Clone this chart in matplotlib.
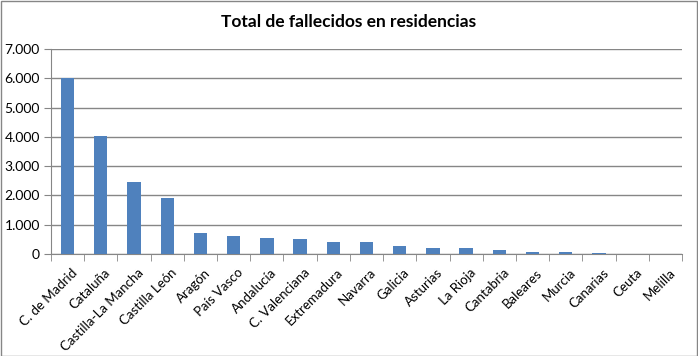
import numpy as np
import matplotlib.pyplot as plt
from matplotlib.ticker import FuncFormatter, FixedLocator
from matplotlib.patches import Rectangle
from matplotlib.transforms import ScaledTranslation

comunidades = ["C. de Madrid", "Cataluña", "Castilla-La Mancha", "Castilla León",
               "Aragón", "País Vasco", "Andalucía", "C. Valenciana", "Extremadura",
               "Navarra", "Galicia", "Asturias", "La Rioja", "Cantabria", "Baleares",
               "Murcia", "Canarias", "Ceuta", "Melilla"]
fallecidos = [5998, 4035, 2460, 1915, 730, 616, 547, 513, 410,
              420, 280, 210, 210, 140, 70, 70, 35, 0, 0]

plt.rcParams["font.family"] = ["Lato", "DejaVu Sans"]

fig = plt.figure(figsize=(6.98, 3.56), dpi=100)
ax = fig.add_axes([51/698, 1 - 254/356, (682-51)/698, (254-49)/356])

x = np.arange(len(comunidades))
ax.bar(x, fallecidos, width=0.4, color="#4f81bd", zorder=3)

ax.set_xlim(-0.5, len(comunidades) - 0.5)
ax.set_ylim(0, 7000)
ax.set_yticks(np.arange(0, 7001, 1000))
ax.yaxis.set_major_formatter(FuncFormatter(lambda v, p: f"{int(v):,}".replace(",", ".")))
ax.grid(axis="y", color="#868686", linewidth=1, zorder=0)

ax.set_xticks(x)
ax.set_xticklabels(comunidades, rotation=45, ha="right", rotation_mode="anchor", fontsize=9.5)
ax.tick_params(axis="x", length=0, pad=9)
off = ScaledTranslation(2.5/72, 0, fig.dpi_scale_trans)
for lab in ax.get_xticklabels():
    lab.set_transform(lab.get_transform() + off)
ax.xaxis.set_minor_locator(FixedLocator(np.arange(-0.5, len(comunidades), 1)))
ax.tick_params(axis="x", which="minor", length=5, color="#868686")
ax.tick_params(axis="y", length=5, color="#868686", labelsize=10, pad=3)

for s in ["top", "right"]:
    ax.spines[s].set_visible(False)
for s in ["left", "bottom"]:
    ax.spines[s].set_color("#868686")

fig.text(0.5, 1 - 22/356, "Total de fallecidos en residencias", ha="center", va="center",
         fontsize=12.5, fontweight="bold")

fig.patches.append(Rectangle((0.5/698, 0.5/356), 1 - 1.5/698, 1 - 1.5/356,
                             transform=fig.transFigure, fill=False,
                             edgecolor="#868686", linewidth=1))

fig.savefig("out.png", dpi=100)
